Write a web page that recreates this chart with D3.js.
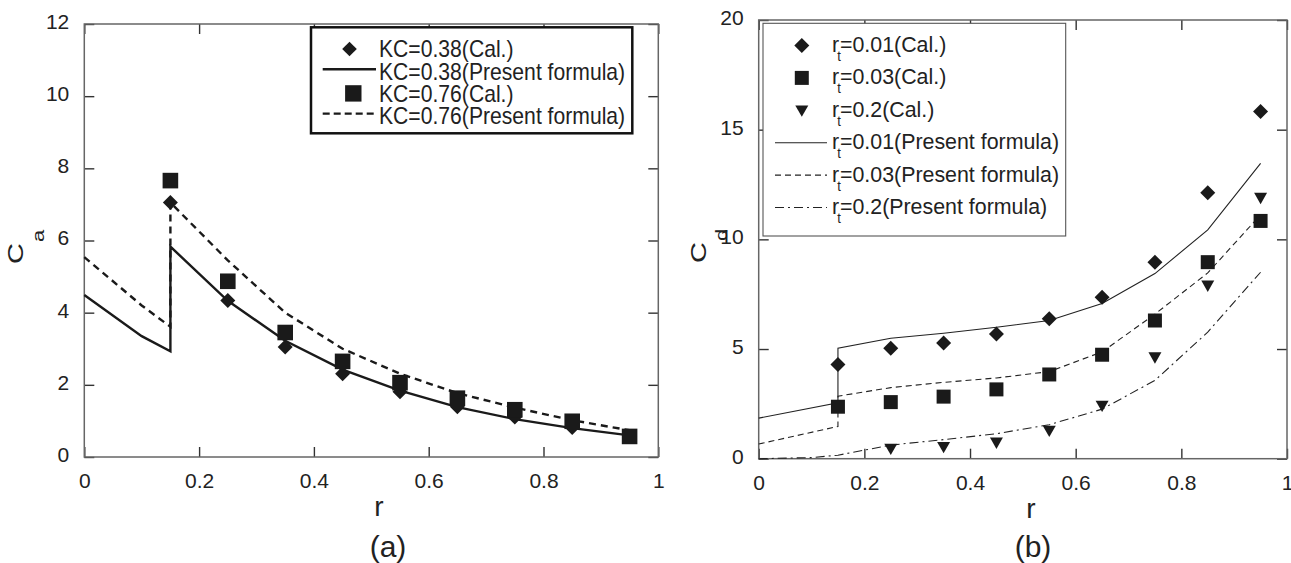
<!DOCTYPE html>
<html>
<head>
<meta charset="utf-8">
<script src="https://cdn.jsdelivr.net/npm/d3@7"></script>
<style>
  html, body { margin: 0; padding: 0; background: #fff; }
  svg { display: block; }
  text { font-family: "Liberation Sans", Arial, Helvetica, sans-serif; fill: #222; }
</style>
</head>
<body>
<svg id="chart" width="1291" height="563"></svg>
<script>
// ---------- panel (a): added-mass coefficient C_a ----------
const xTicks = [0, 0.2, 0.4, 0.6, 0.8, 1];
const xTickLabels = ["0", "0.2", "0.4", "0.6", "0.8", "1"];
const caTicks = [0, 2, 4, 6, 8, 10, 12];

const rCal = [0.15, 0.25, 0.35, 0.45, 0.55, 0.65, 0.75, 0.85, 0.95];
const caKC038Cal = [7.05, 4.34, 3.05, 2.31, 1.81, 1.39, 1.11, 0.82, 0.57];
const caKC076Cal = [7.66, 4.87, 3.45, 2.65, 2.06, 1.63, 1.31, 0.99, 0.57];

const rFormulaA = [0, 0.1, 0.15, 0.15, 0.25, 0.35, 0.45, 0.55, 0.65, 0.75, 0.85, 0.95];
const caKC038Formula = [4.49, 3.35, 2.93, 5.83, 4.33, 3.22, 2.42, 1.84, 1.38, 1.05, 0.80, 0.60];
const caKC076Formula = [5.54, 4.20, 3.61, 7.05, 5.45, 4.00, 3.00, 2.31, 1.77, 1.37, 1.02, 0.74];

const legendA = ["KC=0.38(Cal.)", "KC=0.38(Present formula)", "KC=0.76(Cal.)", "KC=0.76(Present formula)"];

// ---------- panel (b): drag coefficient C_d ----------
const cdTicks = [0, 5, 10, 15, 20];

const cdRt001Cal = [4.30, 5.04, 5.28, 5.69, 6.38, 7.36, 8.96, 12.12, 15.83];
const cdRt003Cal = [2.37, 2.58, 2.83, 3.16, 3.84, 4.74, 6.30, 8.96, 10.84];
const rCalRt02 = [0.25, 0.35, 0.45, 0.55, 0.65, 0.75, 0.85, 0.95];
const cdRt02Cal = [0.46, 0.54, 0.74, 1.28, 2.42, 4.63, 7.90, 11.90];

const rFormulaB = [0, 0.15, 0.15, 0.25, 0.35, 0.45, 0.55, 0.65, 0.75, 0.85, 0.95];
const cdRt001Formula = [1.85, 2.55, 5.04, 5.49, 5.72, 5.99, 6.30, 7.08, 8.44, 10.43, 13.46];
const cdRt003Formula = [0.67, 1.47, 2.85, 3.24, 3.48, 3.68, 3.97, 4.87, 6.59, 8.47, 11.12];
const rFormulaRt02 = [0, 0.1, 0.15, 0.25, 0.35, 0.45, 0.55, 0.65, 0.75, 0.85, 0.95];
const cdRt02Formula = [0, 0.05, 0.16, 0.62, 0.87, 1.14, 1.55, 2.26, 3.57, 5.77, 8.50];

const legendBValues = ["0.01", "0.03", "0.2", "0.01", "0.03", "0.2"];
const legendBSuffix = ["(Cal.)", "(Cal.)", "(Cal.)", "(Present formula)", "(Present formula)", "(Present formula)"];

// ---------- drawing ----------
const svg = d3.select("#chart");
const INK = "#1a1a1a";

const diamond = s => `M0,${-s}L${s},0L0,${s}L${-s},0Z`;
const square = s => `M${-s},${-s}H${s}V${s}H${-s}Z`;
const triDown = s => `M${-s},${-s * 0.75}H${s}L0,${s}Z`;

function drawFrame(g, x, y, yTickVals) {
  const [x0, x1] = x.range();
  const [y0, y1] = y.range();

  const fmtX = (d, i) => xTickLabels[i];
  const bottom = d3.axisBottom(x).tickValues(xTicks).tickFormat(fmtX)
    .tickSizeInner(-10).tickSizeOuter(0).tickPadding(16);
  const left = d3.axisLeft(y).tickValues(yTickVals).tickFormat(d3.format("d"))
    .tickSizeInner(-10).tickSizeOuter(0).tickPadding(15);
  const top = d3.axisTop(x).tickValues(xTicks).tickFormat("")
    .tickSizeInner(-10).tickSizeOuter(0);
  const right = d3.axisRight(y).tickValues(yTickVals).tickFormat("")
    .tickSizeInner(-10).tickSizeOuter(0);

  const styleAxis = a => {
    a.select(".domain").remove();
    a.attr("font-size", 21).attr("font-family", null);
    a.selectAll(".tick line").attr("stroke", "#333").attr("stroke-width", 1.4);
    a.selectAll(".tick text").attr("fill", "#222");
  };

  g.append("g").attr("transform", `translate(0,${y0})`).call(bottom).call(styleAxis);
  g.append("g").attr("transform", `translate(${x0},0)`).call(left).call(styleAxis)
    .selectAll(".tick text").attr("dy", "0.21em");
  g.append("g").attr("transform", `translate(0,${y1})`).call(top).call(styleAxis);
  g.append("g").attr("transform", `translate(${x1},0)`).call(right).call(styleAxis);

  g.append("rect")
    .attr("x", x0).attr("y", y1)
    .attr("width", x1 - x0).attr("height", y0 - y1)
    .attr("fill", "none").attr("stroke", "#666").attr("stroke-width", 1.5);
}

function scaledText(parent, x, y, str, size, sx, anchor) {
  return parent.append("text")
    .attr("transform", `translate(${x},${y}) scale(${sx},1)`)
    .attr("font-size", size)
    .attr("text-anchor", anchor || "start")
    .text(str);
}

// rotated axis title: a large letter with its subscript set well below the baseline
function yLabel(parent, x, y, main, sub) {
  const t = parent.append("text")
    .attr("transform", `translate(${x},${y}) scale(0.74,1) rotate(-90)`)
    .attr("font-size", 29);
  t.append("tspan").text(main);
  t.append("tspan").attr("font-size", 22).attr("dx", 1).attr("dy", 29).text(sub);
}

// ===== panel (a) =====
{
  const g = svg.append("g");
  const x = d3.scaleLinear().domain([0, 1]).range([84.3, 658.3]);
  const y = d3.scaleLinear().domain([0, 12]).range([457, 24]);

  drawFrame(g, x, y, caTicks);

  const line = d3.line().x(d => x(d[0])).y(d => y(d[1]));

  g.append("path").datum(d3.zip(rFormulaA, caKC076Formula))
    .attr("d", line).attr("fill", "none").attr("stroke", INK)
    .attr("stroke-width", 2.4).attr("stroke-dasharray", "7,5");
  g.append("path").datum(d3.zip(rFormulaA, caKC038Formula))
    .attr("d", line).attr("fill", "none").attr("stroke", INK)
    .attr("stroke-width", 2.4);

  g.selectAll(".d38").data(d3.zip(rCal, caKC038Cal)).join("path")
    .attr("d", diamond(7.5)).attr("fill", INK)
    .attr("transform", d => `translate(${x(d[0])},${y(d[1])})`);
  g.selectAll(".s76").data(d3.zip(rCal, caKC076Cal)).join("path")
    .attr("d", square(7.8)).attr("fill", INK)
    .attr("transform", d => `translate(${x(d[0])},${y(d[1])})`);

  // legend
  const lg = g.append("g");
  lg.append("rect").attr("x", 311).attr("y", 27.3).attr("width", 321.3).attr("height", 106)
    .attr("fill", "#fff").attr("stroke", "#111").attr("stroke-width", 2.5);
  const rowY = i => 49 + i * 22.2;
  lg.append("path").attr("d", diamond(7.3)).attr("fill", INK)
    .attr("transform", `translate(349.5,${rowY(0)})`);
  lg.append("line").attr("x1", 322.7).attr("x2", 376).attr("y1", rowY(1) - 2).attr("y2", rowY(1) - 2)
    .attr("stroke", INK).attr("stroke-width", 2.4);
  lg.append("path").attr("d", square(8.2)).attr("fill", INK)
    .attr("transform", `translate(353.3,${rowY(2)})`);
  lg.append("line").attr("x1", 322.7).attr("x2", 376).attr("y1", rowY(3) - 2).attr("y2", rowY(3) - 2)
    .attr("stroke", INK).attr("stroke-width", 2.4).attr("stroke-dasharray", "7,4");
  legendA.forEach((s, i) => scaledText(lg, 379, rowY(i) + 8.3, s, 23, 0.92));

  // axis titles
  g.append("text").attr("x", 379).attr("y", 516).attr("text-anchor", "middle")
    .attr("font-size", 28).text("r");
  g.append("text").attr("x", 388).attr("y", 557).attr("text-anchor", "middle")
    .attr("font-size", 30).text("(a)");
  yLabel(g, 23, 264, "C", "a");
}

// ===== panel (b) =====
{
  const g = svg.append("g");
  const x = d3.scaleLinear().domain([0, 1]).range([758.7, 1287]);
  const y = d3.scaleLinear().domain([0, 20]).range([458.7, 20]);

  drawFrame(g, x, y, cdTicks);

  const line = d3.line().x(d => x(d[0])).y(d => y(d[1]));

  g.append("path").datum(d3.zip(rFormulaB, cdRt001Formula))
    .attr("d", line).attr("fill", "none").attr("stroke", "#222").attr("stroke-width", 1.1);
  g.append("path").datum(d3.zip(rFormulaB, cdRt003Formula))
    .attr("d", line).attr("fill", "none").attr("stroke", "#222").attr("stroke-width", 1.1)
    .attr("stroke-dasharray", "6,4");
  g.append("path").datum(d3.zip(rFormulaRt02, cdRt02Formula))
    .attr("d", line).attr("fill", "none").attr("stroke", "#222").attr("stroke-width", 1.1)
    .attr("stroke-dasharray", "9,4,2,4");

  const place = d => `translate(${x(d[0])},${y(d[1])})`;
  g.selectAll(".d01").data(d3.zip(rCal, cdRt001Cal)).join("path")
    .attr("d", diamond(7.5)).attr("fill", INK).attr("transform", place);
  g.selectAll(".s03").data(d3.zip(rCal, cdRt003Cal)).join("path")
    .attr("d", square(7)).attr("fill", INK).attr("transform", place);
  g.selectAll(".t2").data(d3.zip(rCalRt02, cdRt02Cal)).join("path")
    .attr("d", triDown(6.5)).attr("fill", INK).attr("transform", place);

  // legend
  const lg = g.append("g");
  lg.append("rect").attr("x", 763).attr("y", 23.3).attr("width", 302.7).attr("height", 212.7)
    .attr("fill", "#fff").attr("stroke", "#555").attr("stroke-width", 1.1);
  const rowY = i => 45.5 + i * 32.4;
  const sx = 801.8;
  lg.append("path").attr("d", diamond(7.5)).attr("fill", INK).attr("transform", `translate(${sx},${rowY(0)})`);
  lg.append("path").attr("d", square(7)).attr("fill", INK).attr("transform", `translate(${sx},${rowY(1)})`);
  lg.append("path").attr("d", triDown(6.5)).attr("fill", INK).attr("transform", `translate(${sx},${rowY(2)})`);
  const dashes = [null, "6,4", "9,4,2,4"];
  dashes.forEach((da, k) => {
    const ln = lg.append("line").attr("x1", 775).attr("x2", 827)
      .attr("y1", rowY(3 + k)).attr("y2", rowY(3 + k))
      .attr("stroke", "#222").attr("stroke-width", 1.1);
    if (da) ln.attr("stroke-dasharray", da);
  });
  legendBValues.forEach((v, i) => {
    const t = lg.append("text")
      .attr("transform", `translate(832,${rowY(i) + 6.5}) scale(0.93,1)`)
      .attr("font-size", 23);
    t.append("tspan").text("r");
    t.append("tspan").attr("font-size", 14).attr("dx", -2).attr("dy", 9).text("t");
    t.append("tspan").attr("dx", -1).attr("dy", -9).text("=" + v + legendBSuffix[i]);
  });

  // axis titles
  g.append("text").attr("x", 1031).attr("y", 518).attr("text-anchor", "middle")
    .attr("font-size", 28).text("r");
  g.append("text").attr("x", 1033).attr("y", 557).attr("text-anchor", "middle")
    .attr("font-size", 30).text("(b)");
  yLabel(g, 706, 263, "C", "d");
}
</script>
</body>
</html>
